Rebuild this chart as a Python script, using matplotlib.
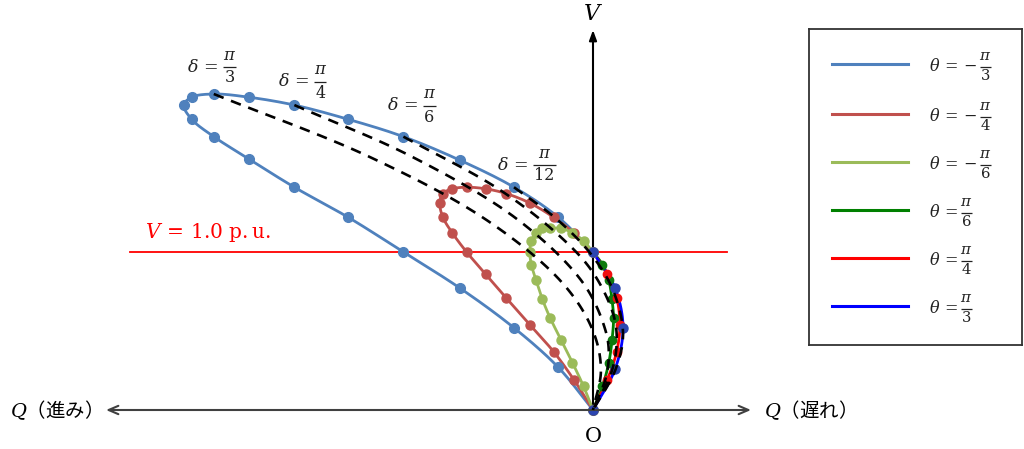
import numpy as np
import matplotlib
matplotlib.use("Agg")
import matplotlib.pyplot as plt

plt.rcParams['mathtext.fontset'] = 'dejavuserif'
plt.rcParams['font.family'] = ['DejaVu Serif']

# ---------------- data (Q in p.u., V in p.u.) ----------------
# theta = -pi/3
q_m60 = [0.00, -0.22, -0.50, -0.84, -1.20, -1.55, -1.89, -2.18, -2.40, -2.54, -2.59,
         -2.54, -2.40, -2.18, -1.89, -1.55, -1.20, -0.84, -0.50, -0.22, 0.00]
v_m60 = [1.00, 1.22, 1.41, 1.58, 1.73, 1.84, 1.93, 1.98, 2.00, 1.98, 1.93,
         1.84, 1.73, 1.59, 1.41, 1.22, 1.00, 0.77, 0.52, 0.27, 0.00]
# theta = -pi/4
q_m45 = [0.00, -0.12, -0.25, -0.40, -0.55, -0.68, -0.80, -0.89, -0.95, -0.97,
         -0.95, -0.89, -0.80, -0.68, -0.55, -0.40, -0.25, -0.12, 0.00]
v_m45 = [1.00, 1.12, 1.22, 1.31, 1.37, 1.40, 1.41, 1.40, 1.37, 1.31,
         1.22, 1.12, 1.00, 0.86, 0.71, 0.54, 0.37, 0.19, 0.00]
# theta = -pi/6
q_m30 = [0.00, -0.06, -0.13, -0.20, -0.27, -0.32, -0.36, -0.39, -0.40,
         -0.39, -0.36, -0.32, -0.27, -0.20, -0.13, -0.06, 0.00]
v_m30 = [1.00, 1.07, 1.12, 1.15, 1.15, 1.15, 1.12, 1.07, 1.00,
         0.92, 0.82, 0.70, 0.58, 0.44, 0.30, 0.15, 0.00]
# theta = pi/6
q_p30 = [0.00, 0.06, 0.10, 0.12, 0.13, 0.12, 0.10, 0.06, 0.00]
v_p30 = [1.00, 0.92, 0.82, 0.70, 0.58, 0.44, 0.30, 0.15, 0.00]
# theta = pi/4
q_p45 = [0.00, 0.09, 0.15, 0.17, 0.15, 0.09, 0.00]
v_p45 = [1.00, 0.86, 0.71, 0.54, 0.37, 0.19, 0.00]
# theta = pi/3
q_p60 = [0.00, 0.14, 0.19, 0.14, 0.00]
v_p60 = [1.00, 0.77, 0.52, 0.26, 0.00]

# constant-delta curves (dashed)
q_d60 = [-2.40, -1.41, -0.67, -0.19, 0.00, 0.05, 0.00]
v_d60 = [2.00, 1.60, 1.20, 0.80, 0.50, 0.25, 0.00]
q_d45 = [-1.89, -1.14, -0.47, -0.06, 0.08, 0.10, 0.08, 0.00]
v_d45 = [1.93, 1.60, 1.20, 0.80, 0.50, 0.35, 0.20, 0.00]
q_d30 = [-1.20, -0.60, -0.21, 0.00, 0.13, 0.15, 0.12, 0.00]
v_d30 = [1.73, 1.40, 1.10, 0.87, 0.60, 0.43, 0.25, 0.00]
q_d15 = [-0.50, -0.22, 0.00, 0.13, 0.19, 0.14, 0.00]
v_d15 = [1.41, 1.20, 0.97, 0.75, 0.48, 0.25, 0.00]

# labels: (prefix, numerator, denominator)
theta_labels = [(r'$\theta\,=\,{-}$', r'$\pi$', '3'), (r'$\theta\,=\,{-}$', r'$\pi$', '4'),
                (r'$\theta\,=\,{-}$', r'$\pi$', '6'), (r'$\theta\,=$', r'$\pi$', '6'),
                (r'$\theta\,=$', r'$\pi$', '4'), (r'$\theta\,=$', r'$\pi$', '3')]
delta_labels = [(r'$\delta\,=$', r'$\pi$', '3'), (r'$\delta\,=$', r'$\pi$', '4'),
                (r'$\delta\,=$', r'$\pi$', '6'), (r'$\delta\,=$', r'$\pi$', '12')]
v_ref = 1.0

# ---------------- helpers ----------------
def smooth(x, y, n=16):
    """Centripetal Catmull-Rom rendering through the given points."""
    P = np.column_stack([x, y]).astype(float)
    P = np.vstack([2 * P[0] - P[1], P, 2 * P[-1] - P[-2]])
    out = []
    for i in range(len(P) - 3):
        p0, p1, p2, p3 = P[i], P[i + 1], P[i + 2], P[i + 3]
        def tj(ti, a, b):
            return ti + max(np.linalg.norm(b - a), 1e-9) ** 0.5
        t0 = 0.0
        t1 = tj(t0, p0, p1)
        t2 = tj(t1, p1, p2)
        t3 = tj(t2, p2, p3)
        t = np.linspace(t1, t2, n)[:, None]
        A1 = (t1 - t) / (t1 - t0) * p0 + (t - t0) / (t1 - t0) * p1
        A2 = (t2 - t) / (t2 - t1) * p1 + (t - t1) / (t2 - t1) * p2
        A3 = (t3 - t) / (t3 - t2) * p2 + (t - t2) / (t3 - t2) * p3
        B1 = (t2 - t) / (t2 - t0) * A1 + (t - t0) / (t2 - t0) * A2
        B2 = (t3 - t) / (t3 - t1) * A2 + (t - t1) / (t3 - t1) * A3
        C = (t2 - t) / (t2 - t1) * B1 + (t - t1) / (t2 - t1) * B2
        out.append(C if i == 0 else C[1:])
    C = np.vstack(out)
    return C[:, 0], C[:, 1]

S = 158.0  # pixels per p.u.
W, H = 1024, 449
X0, Y0 = 593, 410
def px(x, y):
    return (x - X0) / S, (Y0 - y) / S

fig = plt.figure(figsize=(W / 100, H / 100), dpi=100)
renderer = fig.canvas.get_renderer()
ax = fig.add_axes([0, 0, 1, 1])
ax.set_xlim(-X0 / S, (W - X0) / S)
ax.set_ylim((Y0 - H) / S, Y0 / S)
ax.axis('off')

TXT = '#222222'
def frac_label(a, conv, x_left, y_bar, prefix, num, den, fs, gap, dy_n, dy_d):
    t = a.text(*conv(x_left, y_bar), prefix, fontsize=fs, ha='left', va='center', color=TXT)
    bb = t.get_window_extent(renderer)
    x_end = bb.x1  # image pixels (x)
    td = a.text(0, 0, den, fontsize=fs * 0.92, ha='center', va='center', color=TXT)
    wd = td.get_window_extent(renderer).width
    bw = wd + 2
    xb0 = x_end + gap
    xb1 = xb0 + bw
    xc = (xb0 + xb1) / 2
    td.set_position(conv(xc, y_bar + dy_d))
    a.text(*conv(xc, y_bar - dy_n), num, fontsize=fs * 0.95, ha='center', va='center', color=TXT)
    (x0d, yd), (x1d, _) = conv(xb0, y_bar), conv(xb1, y_bar)
    a.plot([x0d, x1d], [yd, yd], color=TXT, lw=0.9, solid_capstyle='butt')

axis_col = '#404040'
# Q axis (double open arrow)
ax.annotate('', xy=px(751, 410), xytext=px(106, 410),
            arrowprops=dict(arrowstyle='<->,head_length=0.7,head_width=0.3',
                            color=axis_col, lw=1.5, shrinkA=0, shrinkB=0))
# V axis (filled arrow)
ax.annotate('', xy=px(593, 30), xytext=px(593, 410),
            arrowprops=dict(arrowstyle='-|>,head_length=0.6,head_width=0.22',
                            color='black', lw=1.5, shrinkA=0, shrinkB=0), zorder=1)

# reference V = 1.0 line
ax.plot([px(130, 0)[0], px(727, 0)[0]], [v_ref, v_ref], color='red', lw=1.3, zorder=1)
ax.text(*px(208, 233), r'$V\,=\,1.0\ \mathrm{p.u.}$', color='red', fontsize=14.5,
        ha='center', va='center')

series = [
    (q_m60, v_m60, '#4F81BD', '#4F81BD', 7.0),
    (q_m45, v_m45, '#C0504D', '#C0504D', 6.5),
    (q_m30, v_m30, '#9BBB59', '#9BBB59', 6.5),
    (q_p30, v_p30, '#008000', '#0E7A0E', 6.0),
    (q_p45, v_p45, '#FF0000', '#F01010', 6.0),
    (q_p60, v_p60, '#0000FF', '#2B45B0', 6.5),
]
for q, v, lc, mc, ms in series:
    sx, sy = smooth(q, v)
    ax.plot(sx, sy, color=lc, lw=2.0, zorder=2, solid_capstyle='round')
    ax.plot(q, v, 'o', color=mc, ms=ms, mec=mc, zorder=2.5)

for q, v in [(q_d60, v_d60), (q_d45, v_d45), (q_d30, v_d30), (q_d15, v_d15)]:
    sx, sy = smooth(q, v)
    ax.plot(sx, sy, color='black', lw=1.9, ls=(0, (4, 3)), zorder=3)

# delta labels
for (pre, nm, dn), (x, y) in zip(delta_labels, [(187, 67), (278, 82), (387, 106), (497, 165)]):
    frac_label(ax, px, x, y, pre, nm, dn, 12.5, 5, 12, 11)

# axis labels
ax.text(*px(593, 14), r'$V$', fontsize=16, ha='center', va='center')
ax.text(*px(593, 437), 'O', fontsize=15, ha='center', va='center', family='DejaVu Serif')
ax.text(*px(10, 410), r'$Q$（進み）', fontsize=14, ha='left', va='center',
        family=['Noto Sans CJK JP', 'DejaVu Sans'])
ax.text(*px(764, 410), r'$Q$（遅れ）', fontsize=14, ha='left', va='center',
        family=['Noto Sans CJK JP', 'DejaVu Sans'])

# legend box (drawn manually, axes data units = image pixels)
lx0, ly0, lx1, ly1 = 809, 29, 1022, 345
lax = fig.add_axes([lx0 / W, 1 - ly1 / H, (lx1 - lx0) / W, (ly1 - ly0) / H])
lax.set_xlim(lx0, lx1)
lax.set_ylim(ly1, ly0)
lax.set_xticks([])
lax.set_yticks([])
for sp in lax.spines.values():
    sp.set_color('#333333')
    sp.set_linewidth(1.3)

def lax_conv(x, y):
    return x, y

rows = [64, 114, 162, 210, 258, 306]
for (q, v, lc, mc, ms), (pre, nm, dn), yy in zip(series, theta_labels, rows):
    lax.plot([832, 908], [yy, yy], color=lc, lw=2.2)
    frac_label(lax, lax_conv, 929, yy + 2.5, pre, nm, dn, 11.5, 3, 10, 10)

fig.savefig('out.png', dpi=100)
